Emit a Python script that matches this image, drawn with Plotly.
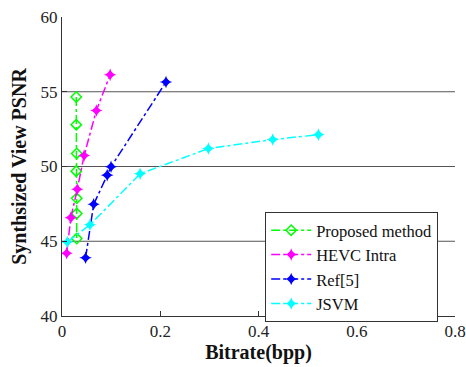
import plotly.graph_objects as go

prop_x = [0.029, 0.029, 0.030, 0.029, 0.030, 0.030, 0.030]
prop_y = [54.65, 52.8, 50.87, 49.69, 47.87, 46.85, 45.18]

hevc_x = [0.0095, 0.018, 0.031, 0.045, 0.070, 0.098]
hevc_y = [44.2, 46.58, 48.47, 50.73, 53.75, 56.13]

ref_x = [0.048, 0.0645, 0.092, 0.0998, 0.2117]
ref_y = [43.9, 47.47, 49.42, 49.98, 55.65]

jsvm_x = [0.0108, 0.057, 0.159, 0.298, 0.429, 0.522]
jsvm_y = [44.95, 46.1, 49.51, 51.2, 51.8, 52.13]

grid_y = [45, 50, 55]
x_ticks = [0, 0.2, 0.4, 0.6, 0.8]
x_tick_text = ["0", "0.2", "0.4", "0.6", "0.8"]
y_ticks = [40, 45, 50, 55, 60]

font = "Liberation Serif, Times New Roman, serif"

fig = go.Figure()
fig.add_trace(go.Scatter(x=prop_x, y=prop_y, name="Proposed method", mode="lines+markers",
                         line=dict(color="#00ff00", dash="dashdot", width=1.5),
                         marker=dict(symbol="diamond-open", size=8, color="#00ff00", line=dict(width=1.5))))
fig.add_trace(go.Scatter(x=hevc_x, y=hevc_y, name="HEVC Intra", mode="lines+markers",
                         line=dict(color="#ff00ff", dash="dashdot", width=1.5),
                         marker=dict(symbol="star-diamond", size=9, color="#ff00ff")))
fig.add_trace(go.Scatter(x=ref_x, y=ref_y, name="Ref[5]", mode="lines+markers",
                         line=dict(color="#0000ff", dash="dashdot", width=1.5),
                         marker=dict(symbol="star-diamond", size=9, color="#0000ff")))
fig.add_trace(go.Scatter(x=jsvm_x, y=jsvm_y, name="JSVM", mode="lines+markers",
                         line=dict(color="#00ffff", dash="dashdot", width=1.5),
                         marker=dict(symbol="star-diamond", size=9, color="#00ffff")))

for gy in grid_y:
    fig.add_shape(type="line", xref="paper", x0=0, x1=1, yref="y", y0=gy, y1=gy,
                  line=dict(color="#555555", width=1.2), layer="below")

fig.update_layout(
    width=466, height=367,
    margin=dict(l=62, r=11, t=17, b=51, autoexpand=False),
    paper_bgcolor="white", plot_bgcolor="white",
    font=dict(family=font, size=17, color="#222222"),
    showlegend=True,
    legend=dict(x=0.517, y=0.348, xanchor="left", yanchor="top",
                bordercolor="#333333", borderwidth=1, bgcolor="white",
                font=dict(family=font, size=16.5, color="#111111"),
                tracegroupgap=0, itemwidth=40),
    xaxis=dict(range=[0, 0.8], tickvals=x_ticks, ticktext=x_tick_text, automargin=False,
               showgrid=False, zeroline=False, showline=True, linecolor="#333333", linewidth=1,
               ticks="inside", ticklen=5, tickcolor="#333333",
               title=dict(text="<b>Bitrate(bpp)</b>", font=dict(family=font, size=20, color="#111111"), standoff=2)),
    yaxis=dict(range=[40, 60], tickvals=y_ticks, automargin=False,
               showgrid=False, zeroline=False, showline=True, linecolor="#333333", linewidth=1,
               ticks="inside", ticklen=5, tickcolor="#333333",
               title=dict(text="<b>Synthsized View PSNR</b>", font=dict(family=font, size=20, color="#111111"), standoff=8)),
)

fig.write_html("out.html", config={"displayModeBar": False},
               post_script="document.body.style.margin='0';document.body.style.overflow='hidden';")
